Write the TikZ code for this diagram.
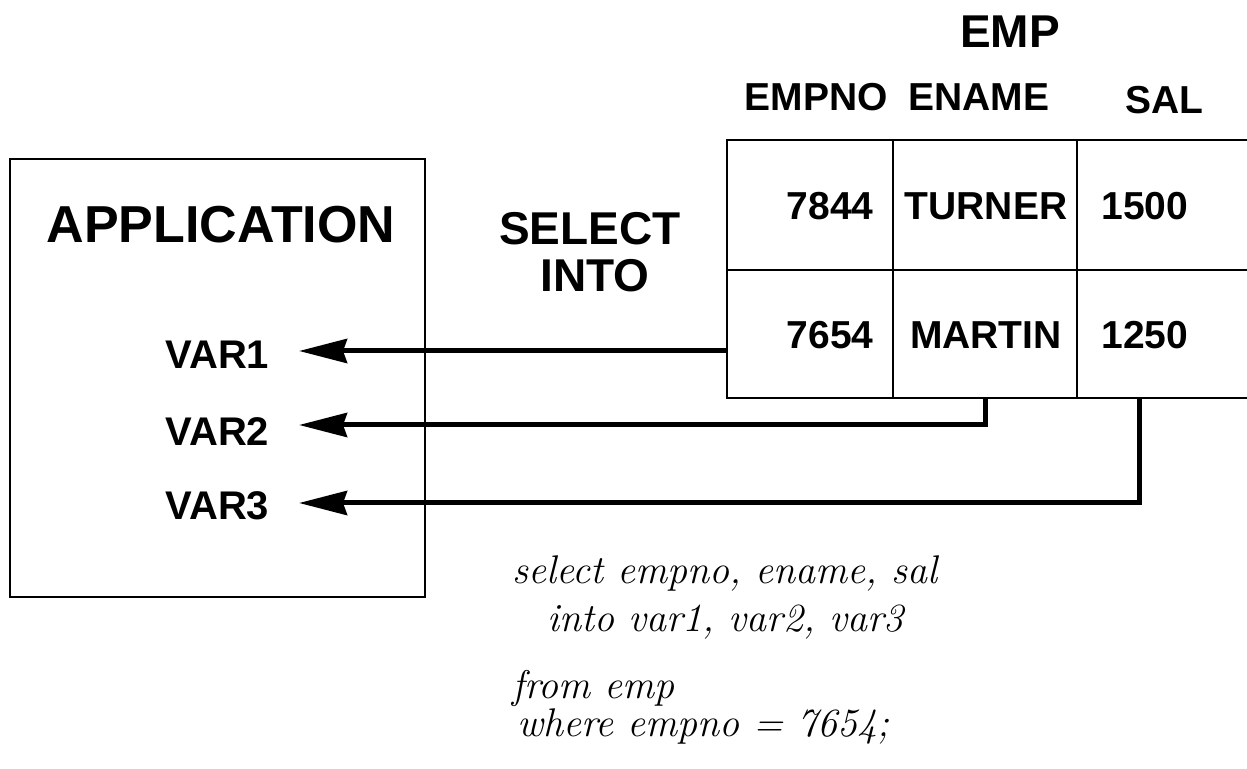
\documentclass[tikz,border=0pt]{standalone}
\usepackage{fontspec}
\newfontfamily\arialb{Liberation Sans}[BoldFont={Liberation Sans Bold}]
\usetikzlibrary{arrows.meta}
\begin{document}
\begin{tikzpicture}[x=0.5pt,y=-0.5pt,
  lbl/.style={font=\arialb\bfseries\fontsize{#1}{#1}\selectfont, inner sep=0pt},
  hand/.style={font=\itshape\fontsize{20}{22}\selectfont, inner sep=0pt, anchor=base west},
  frame/.style={draw, line width=1pt},
  arr/.style={line width=2.5pt, -{Stealth[length=24pt, width=12pt, inset=2pt]}},
  grid/.style={line width=1pt}]
\useasboundingbox (0,0) rectangle (1247,769);

% application box
\node[frame, minimum width=207.5pt, minimum height=219pt, inner sep=0pt] (app) at (217.5,378) {};
\node[lbl=26] (apptxt) at (221,225) {APPLICATION};
\node[lbl=20, anchor=west] (var1) at (165,355) {VAR1};
\node[lbl=20, anchor=west] (var2) at (165,432) {VAR2};
\node[lbl=20, anchor=west] (var3) at (165,506) {VAR3};

% select into
\node[lbl=23] (sel) at (590,229) {SELECT};
\node[lbl=23] (into) at (595,276) {INTO};

% table headers
\node[lbl=23] (emp) at (1010,32) {EMP};
\node[lbl=19.5] (hno) at (816,97) {EMPNO};
\node[lbl=19.5] (hname) at (979,97) {ENAME};
\node[lbl=19.5] (hsal) at (1164,100) {SAL};

% table grid
\draw[grid] (1247,140) -- (727,140) -- (727,398) -- (1247,398);
\draw[grid] (727,270) -- (1247,270);
\draw[grid] (893,140) -- (893,398);
\draw[grid] (1077,140) -- (1077,398);

% cells
\node[lbl=19.5, anchor=east] (c11) at (874,206) {7844};
\node[lbl=19.5] (c12) at (986,206) {TURNER};
\node[lbl=19.5, anchor=west] (c13) at (1101,206) {1500};
\node[lbl=19.5, anchor=east] (c21) at (874,335) {7654};
\node[lbl=19.5] (c22) at (986,335) {MARTIN};
\node[lbl=19.5, anchor=west] (c23) at (1101,335) {1250};

% connectors
\coordinate (s1) at (727,351);
\coordinate (s2) at (985,398);
\coordinate (s3) at (1139,398);
\coordinate (tip) at (299,0);
\draw[arr] (s1) -- (s1 -| tip);
\draw[arr] (s2) -- (985,425) -- (299,425);
\draw[arr] (s3) -- (1139,503) -- (299,503);

% handwritten query
\node[hand] (q1) at (512,583) {select empno, ename, sal};
\node[hand] (q2) at (547,632) {into var1, var2, var3};
\node[hand] (q3) at (512,698) {from emp};
\node[hand] (q4) at (517,736) {where empno = 7654;};
\end{tikzpicture}
\end{document}
